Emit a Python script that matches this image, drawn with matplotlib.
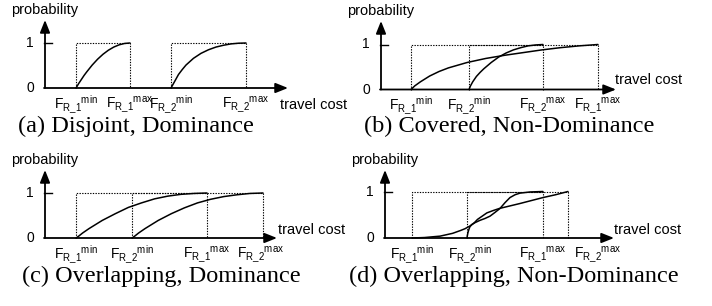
import matplotlib.pyplot as plt

plt.rcParams['font.family'] = ['Liberation Sans', 'DejaVu Sans']
plt.rcParams['mathtext.default'] = 'regular'

W, H = 712, 306

# travel cost positions, measured from the probability axis
a_ticks = [31, 85, 126, 201]
a_labels = [r'F$_{R\_1}$$^{min}$', r'F$_{R\_1}$$^{max}$', r'F$_{R\_2}$$^{min}$', r'F$_{R\_2}$$^{max}$']
a_r1 = (31, 85)
a_r2 = (126, 201)

b_ticks = [30, 88, 162, 217]
b_labels = [r'F$_{R\_1}$$^{min}$', r'F$_{R\_2}$$^{min}$', r'F$_{R\_2}$$^{max}$', r'F$_{R\_1}$$^{max}$']
b_r1 = (30, 217)
b_r2 = (88, 162)

c_ticks = [31, 87, 162, 216]
c_labels = [r'F$_{R\_1}$$^{min}$', r'F$_{R\_2}$$^{min}$', r'F$_{R\_1}$$^{max}$', r'F$_{R\_2}$$^{max}$']
c_r1 = (31, 162)
c_r2 = (87, 218)

d_ticks = [27, 85, 158, 213]
d_labels = [r'F$_{R\_1}$$^{min}$', r'F$_{R\_2}$$^{min}$', r'F$_{R\_1}$$^{max}$', r'F$_{R\_2}$$^{max}$']
d_r1 = (27, 158)
d_r2 = (82, 183)

# cdf curves: fraction of the span -> probability
t_grid = [0, .02, .05, .1, .15, .2, .3, .4, .5, .6, .7, .8, .9, 1]
a_r1_p = [0, .04, .10, .19, .28, .36, .51, .64, .75, .84, .91, .96, .99, 1]
a_r2_p = [0, .06, .15, .30, .41, .51, .66, .77, .85, .91, .95, .98, .995, 1]
b_r1_p = [0, .08, .17, .30, .40, .48, .60, .69, .76, .82, .88, .93, .97, 1]
b_r2_p = [0, .08, .17, .29, .38, .46, .60, .72, .81, .88, .93, .97, .99, 1]
c_r1_p = [0, .04, .11, .21, .30, .39, .54, .68, .78, .87, .93, .97, .99, 1]
c_r2_p = [0, .04, .11, .21, .30, .39, .54, .67, .78, .86, .92, .96, .99, 1]

d_long = (27, 183)
d_long_t = [0, .08, .18, .26, .31, .34, .37, .40, .42, .45, .48, .52, .56, .69, .84, .92, 1]
d_long_p = [0, .01, .04, .10, .16, .20, .255, .33, .40, .47, .54, .59, .635, .74, .87, .93, 1]
d_short = (82, 158)
d_short_t = [0, .004, .013, .026, .039, .066, .105, .171, .237, .303, .368, .434, .5, .566, .632, .697, .829, 1]
d_short_p = [0, .05, .12, .19, .245, .29, .33, .38, .42, .47, .55, .635, .76, .87, .93, .965, .99, 1]

captions = ['(a) Disjoint, Dominance', '(b) Covered, Non-Dominance',
            '(c) Overlapping, Dominance', '(d) Overlapping, Non-Dominance']

fig = plt.figure(figsize=(W / 100, H / 100), dpi=100)


def span(rng, ts):
    return [rng[0] + t * (rng[1] - rng[0]) for t in ts]


def panel(x0, tip, base, one, top, ticks, labels, boxes, curves, cost_xy):
    ax = fig.add_axes([x0 / W, (H - base) / H, (tip - x0) / W, (base - one) / H])
    ax.set_xlim(0, tip - x0)
    ax.set_ylim(0, 1)
    ax.axis('off')
    ytop = (base - top) / (base - one)
    arrow = dict(arrowstyle='-|>,head_length=0.75,head_width=0.3', lw=1.3, color='black',
                 shrinkA=0, shrinkB=0, mutation_scale=10)
    ax.annotate('', xy=(tip - x0, 0), xytext=(-1, 0), arrowprops=arrow, annotation_clip=False)
    ax.annotate('', xy=(0, ytop), xytext=(0, 0), arrowprops=arrow, annotation_clip=False)
    ax.plot([-1, 7], [1, 1], color='black', lw=1.0, clip_on=False)
    for lo, hi in boxes:
        ax.plot([lo, lo, hi, hi], [0, 1, 1, 0], color='black', lw=0.8,
                ls=(0, (1.2, 1.2)), clip_on=False)
    for xs, ps in curves:
        ax.plot(xs, ps, color='black', lw=1.1, clip_on=False, solid_capstyle='round')
    for x, lab in zip(ticks, labels):
        ax.annotate(lab, xy=(x, 0), xytext=(0, -14.5), textcoords='offset points',
                    ha='center', va='baseline', fontsize=10, annotation_clip=False)
    ax.annotate('0', xy=(0, 0), xytext=(-8, 0), textcoords='offset points',
                ha='right', va='center', fontsize=10, annotation_clip=False)
    ax.annotate('1', xy=(0, 1), xytext=(-8, 0), textcoords='offset points',
                ha='right', va='center', fontsize=10, annotation_clip=False)
    ax.annotate('probability', xy=(0, ytop), xytext=(0, 2.5), textcoords='offset points',
                ha='center', va='bottom', fontsize=10.5, annotation_clip=False)
    ax.annotate('travel cost', xy=(tip - x0, 0), xytext=cost_xy, textcoords='offset points',
                ha='left', va='center', fontsize=10.5, annotation_clip=False)
    return ax


panel(45, 288, 88, 43, 20, a_ticks, a_labels, [a_r1, a_r2],
      [(span(a_r1, t_grid), a_r1_p), (span(a_r2, t_grid), a_r2_p)], (-6, -12.5))
panel(381, 616, 89.5, 44.5, 21, b_ticks, b_labels, [b_r1, b_r2],
      [(span(b_r1, t_grid), b_r1_p), (span(b_r2, t_grid), b_r2_p)], (-1, 7))
panel(45, 277, 238, 193, 170, c_ticks, c_labels, [c_r1, c_r2],
      [(span(c_r1, t_grid), c_r1_p), (span(c_r2, t_grid), c_r2_p)], (1, 6))
panel(385, 614, 238, 191.5, 170, d_ticks, d_labels, [d_r1, d_r2],
      [(span(d_long, d_long_t), d_long_p), (span(d_short, d_short_t), d_short_p)], (0, 6))

cap_pos = [(136, 126), (509, 126), (161, 276), (514, 276)]
for (cx, cy), cap in zip(cap_pos, captions):
    fig.text(cx / W, 1 - cy / H, cap, ha='center', va='center',
             family='Liberation Serif', fontsize=17.5)

fig.savefig('out.png', dpi=100)
